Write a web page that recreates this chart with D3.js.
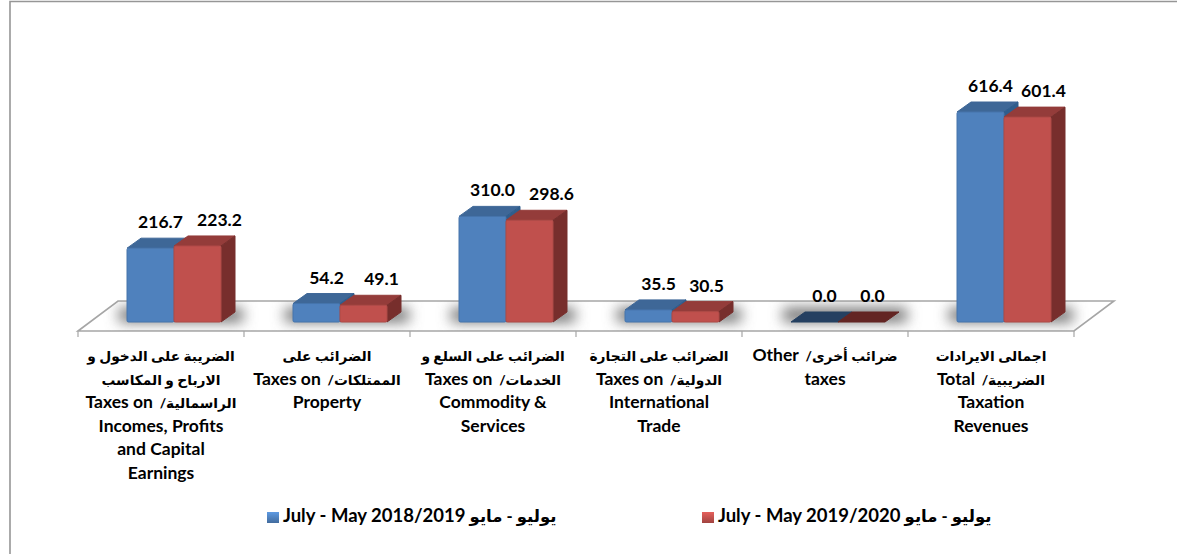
<!DOCTYPE html>
<html>
<head>
<meta charset="utf-8">
<script src="https://cdn.jsdelivr.net/npm/d3@7"></script>
<style>
html, body { margin: 0; padding: 0; background: #fff; }
svg { display: block; }
text { font-family: Lato, "Noto Sans", "DejaVu Sans", sans-serif; font-weight: 700; fill: #000; white-space: pre; }
</style>
</head>
<body>
<div id="chart"></div>
<script>
// values
var categories = ["income", "property", "commodity", "trade", "other", "total"]
var categoryLines = [
	["الضريبة على الدخول و", "الارباح و المكاسب", "الراسمالية/  Taxes on", "Incomes, Profits", "and Capital", "Earnings"],
	["الضرائب على", "الممتلكات/  Taxes on", "Property"],
	["الضرائب على السلع و", "الخدمات/  Taxes on", "Commodity &", "Services"],
	["الضرائب على التجارة", "الدولية/  Taxes on", "International", "Trade"],
	["ضرائب أخرى/  Other", "taxes"],
	["اجمالى الايرادات", "الضريبية/  Total", "Taxation", "Revenues"]
]
var series = ["y2019", "y2020"]
var seriesNames = ["يوليو - مايو July - May 2018/2019", "يوليو - مايو July - May 2019/2020"]
var values2019 = [216.7, 54.2, 310.0, 35.5, 0.0, 616.4]
var values2020 = [223.2, 49.1, 298.6, 30.5, 0.0, 601.4]

// hand placed label shift of the red series, the original labels are not centred
var redLabelShift = [22, 18, 22, 11, 11, 16]

var width = 1177, height = 554
var floorFront = 331, floorBack = 301, floorSkew = 40
var baseY = 322
var depthX = 14, depthY = 10

var colors = {
	y2019: {front: "#4f81bd", edge: "#4674ab", top: "#3e6797", side: "#2f5d8c", flat: "#254061"},
	y2020: {front: "#c0504d", edge: "#ae4a47", top: "#943c3a", side: "#772e2c", flat: "#632523"}
}

var svg = d3.select("#chart").append("svg")
	.attr("width", width)
	.attr("height", height)

var defs = svg.append("defs")
defs.append("filter").attr("id", "blur")
	.attr("x", "-40%").attr("y", "-150%").attr("width", "180%").attr("height", "400%")
	.append("feGaussianBlur").attr("stdDeviation", 7)

var x0 = d3.scaleBand().domain(categories).range([78, 1074])
var x1 = d3.scaleBand().domain(series).range([49, 143])
var y = d3.scaleLinear().domain([0, 616.4]).range([baseY, 112])

var floorPoints = [
	[x0.range()[0], floorFront],
	[x0.range()[0] + floorSkew, floorBack],
	[x0.range()[1] + floorSkew, floorBack],
	[x0.range()[1], floorFront]
]

defs.append("clipPath").attr("id", "floorclip")
	.append("polygon").attr("points", floorPoints.join(" "))

series.forEach(function(s){
	var g = defs.append("linearGradient").attr("id", "legend-" + s)
		.attr("x1", 0).attr("x2", 0).attr("y1", 0).attr("y2", 1)
	g.append("stop").attr("offset", "0%").attr("stop-color", d3.rgb(colors[s].front).brighter(0.5))
	g.append("stop").attr("offset", "100%").attr("stop-color", d3.rgb(colors[s].front).darker(0.5))
})

// outer frame, only the top and left edges are in the picture
svg.append("path")
	.attr("d", "M10," + height + "V1.5H" + width)
	.attr("fill", "none")
	.attr("stroke", "#969696")
	.attr("stroke-width", 1.6)

// floor
svg.append("polygon")
	.attr("points", floorPoints.join(" "))
	.attr("fill", "#fff")
	.attr("stroke", "#a6a6a6")
	.attr("stroke-width", 1.6)

// floor shadows
svg.append("g").attr("clip-path", "url(#floorclip)")
	.selectAll("rect")
	.data(categories)
	.enter().append("rect")
		.attr("x", function(d){ return x0(d) + x1.range()[0] - 8 })
		.attr("y", floorBack + 7)
		.attr("width", x1.range()[1] - x1.range()[0] + 30)
		.attr("height", 14)
		.attr("fill", "#6e6e6e")
		.attr("filter", "url(#blur)")

// axis ticks on the category boundaries
var tickPositions = categories.map(function(d){ return x0(d) }).concat(x0.range()[1])
svg.append("g").selectAll("line")
	.data(tickPositions)
	.enter().append("line")
		.attr("x1", function(d){ return d })
		.attr("x2", function(d){ return d })
		.attr("y1", floorFront)
		.attr("y2", floorFront + 6)
		.attr("stroke", "#a6a6a6")
		.attr("stroke-width", 1.2)

var rows = []
categories.forEach(function(c, i){
	rows.push({cat: c, i: i, s: "y2019", v: values2019[i]})
	rows.push({cat: c, i: i, s: "y2020", v: values2020[i]})
})

function barLeft(d){ return x0(d.cat) + x1(d.s) }

var bars = svg.append("g").selectAll("g")
	.data(rows)
	.enter().append("g")

// top face
bars.append("polygon")
	.attr("points", function(d){
		var l = barLeft(d), r = l + x1.bandwidth(), t = y(d.v)
		return [[l, t], [l + depthX, t - depthY], [r + depthX, t - depthY], [r, t]].join(" ")
	})
	.attr("fill", function(d){ return d.v == 0 ? colors[d.s].flat : colors[d.s].top })
	.attr("stroke", function(d){ return d.v == 0 ? colors[d.s].flat : colors[d.s].top })
	.attr("stroke-linejoin", "round")

// side face
bars.filter(function(d){ return d.v > 0 }).append("polygon")
	.attr("points", function(d){
		var r = barLeft(d) + x1.bandwidth(), t = y(d.v)
		return [[r, t], [r + depthX, t - depthY], [r + depthX, baseY - depthY], [r, baseY]].join(" ")
	})
	.attr("fill", function(d){ return colors[d.s].side })
	.attr("stroke", function(d){ return colors[d.s].side })
	.attr("stroke-linejoin", "round")

// front face
bars.filter(function(d){ return d.v > 0 }).append("rect")
	.attr("x", barLeft)
	.attr("y", function(d){ return y(d.v) })
	.attr("width", x1.bandwidth())
	.attr("height", function(d){ return baseY - y(d.v) })
	.attr("rx", 1.5)
	.attr("fill", function(d){ return colors[d.s].front })
	.attr("stroke", function(d){ return colors[d.s].edge })

// value labels
svg.append("g").selectAll("text")
	.data(rows)
	.enter().append("text")
		.attr("x", function(d){
			var mid = barLeft(d) + x1.bandwidth() / 2
			return d.s == "y2019" ? mid + 10 : mid + redLabelShift[d.i]
		})
		.attr("y", function(d){ return y(d.v) - 20 })
		.attr("text-anchor", "middle")
		.attr("font-size", 17.5)
		.text(function(d){ return d3.format(".1f")(d.v) })

// the arabic falls back to a much wider face, so each script gets its own size
var arabic = /[\u0600-\u06FF]/
function addRuns(sel, line, arabicSize, latinSize){
	var runs = line.match(/[\u0600-\u06FF][\u0600-\u06FF \-]*\/?\s*|[^\u0600-\u06FF]+/g)
	sel.selectAll("tspan")
		.data(runs)
		.enter().append("tspan")
			.attr("font-size", function(r){ return arabic.test(r) ? arabicSize : latinSize })
			.text(function(r){ return r })
}

// category labels, one text per wrapped line
svg.append("g").selectAll("g")
	.data(categories)
	.enter().append("g")
		.attr("transform", function(d){ return "translate(" + (x0(d) + x0.bandwidth() / 2) + ",0)" })
		.each(function(d, i){
			d3.select(this).selectAll("text")
				.data(categoryLines[i])
				.enter().append("text")
					.attr("y", function(l, j){ return 361 + j * 23.5 })
					.attr("text-anchor", "middle")
					.attr("direction", function(l){ return arabic.test(l) ? "rtl" : "ltr" })
					.each(function(l){ addRuns(d3.select(this), l, 13.8, 17.5) })
		})

// legend
var legendX = d3.scaleOrdinal().domain(series).range([267, 702])
var legend = svg.append("g").selectAll("g")
	.data(series)
	.enter().append("g")
		.attr("transform", function(d){ return "translate(" + legendX(d) + ",512)" })

legend.append("rect")
	.attr("width", 12)
	.attr("height", 11)
	.attr("fill", function(d){ return "url(#legend-" + d + ")" })

legend.append("text")
	.attr("x", 16)
	.attr("y", 10)
	.attr("direction", "rtl")
	.attr("text-anchor", "end")
	.each(function(d, i){ addRuns(d3.select(this), seriesNames[i], 16.5, 18.5) })
</script>
</body>
</html>
